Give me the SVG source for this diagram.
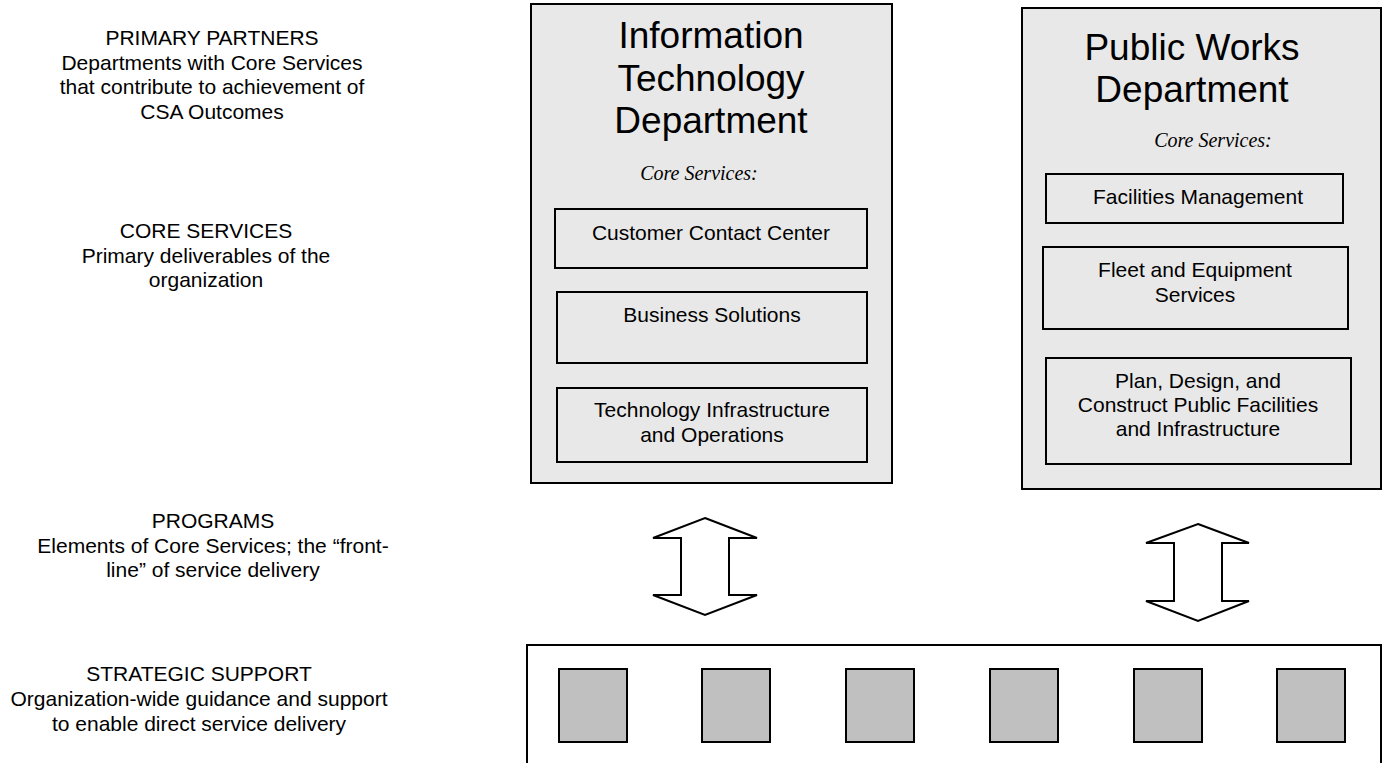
<svg xmlns="http://www.w3.org/2000/svg" width="1387" height="763" viewBox="0 0 1387 763">
<defs>
<style>
.lbl{font-family:"Liberation Sans",Arial,sans-serif;font-size:21px;fill:#000;text-anchor:middle}
.title{font-family:"Liberation Sans",Arial,sans-serif;font-size:37px;fill:#000;text-anchor:middle}
.cs{font-family:"Liberation Serif","Times New Roman",serif;font-style:italic;font-size:20px;fill:#000;text-anchor:middle}
.dept{fill:#e8e8e8;stroke:#000;stroke-width:2}
.svc{fill:#e8e8e8;stroke:#000;stroke-width:2}
.arrow{fill:#fff;stroke:#000;stroke-width:2;stroke-linejoin:miter}
.sq{fill:#c0c0c0;stroke:#000;stroke-width:2}
</style>
</defs>
<rect width="1387" height="763" fill="#fff"/>

<g id="legend">
<text class="lbl" x="212" y="45">PRIMARY PARTNERS</text>
<text class="lbl" x="212" y="69.5">Departments with Core Services</text>
<text class="lbl" x="212" y="94">that contribute to achievement of</text>
<text class="lbl" x="212" y="119">CSA Outcomes</text>
<text class="lbl" x="206" y="238">CORE SERVICES</text>
<text class="lbl" x="206" y="263">Primary deliverables of the</text>
<text class="lbl" x="206" y="287">organization</text>
<text class="lbl" x="213" y="528">PROGRAMS</text>
<text class="lbl" x="213" y="552.5">Elements of Core Services; the “front-</text>
<text class="lbl" x="213" y="577">line” of service delivery</text>
<text class="lbl" x="199" y="680.5">STRATEGIC SUPPORT</text>
<text class="lbl" x="199" y="706">Organization-wide guidance and support</text>
<text class="lbl" x="199" y="731">to enable direct service delivery</text>
</g>

<g id="it-dept">
<rect class="dept" x="531" y="4" width="361" height="479"/>
<text class="title" x="711" y="48">Information</text>
<text class="title" x="711" y="91">Technology</text>
<text class="title" x="711" y="133">Department</text>
<text class="cs" x="699" y="180">Core Services:</text>
</g>
<g id="it-customer-contact">
<rect class="svc" x="555" y="209" width="312" height="59"/>
<text class="lbl" x="711" y="240">Customer Contact Center</text>
</g>
<g id="it-business-solutions">
<rect class="svc" x="557" y="292" width="310" height="71"/>
<text class="lbl" x="712" y="322">Business Solutions</text>
</g>
<g id="it-tech-infra">
<rect class="svc" x="557" y="388" width="310" height="74"/>
<text class="lbl" x="712" y="417">Technology Infrastructure</text>
<text class="lbl" x="712" y="442">and Operations</text>
</g>

<g id="pw-dept">
<rect class="dept" x="1022" y="8" width="359" height="481"/>
<text class="title" x="1192" y="60">Public Works</text>
<text class="title" x="1192" y="102">Department</text>
<text class="cs" x="1213" y="147">Core Services:</text>
</g>
<g id="pw-facilities">
<rect class="svc" x="1046" y="174" width="297" height="49"/>
<text class="lbl" x="1198" y="204">Facilities Management</text>
</g>
<g id="pw-fleet">
<rect class="svc" x="1043" y="247" width="305" height="82"/>
<text class="lbl" x="1195" y="277">Fleet and Equipment</text>
<text class="lbl" x="1195" y="302">Services</text>
</g>
<g id="pw-plan">
<rect class="svc" x="1046" y="358" width="305" height="106"/>
<text class="lbl" x="1198" y="388">Plan, Design, and</text>
<text class="lbl" x="1198" y="412">Construct Public Facilities</text>
<text class="lbl" x="1198" y="436">and Infrastructure</text>
</g>

<g id="connectors">
<polygon class="arrow" points="705,518 757,538 729,538 729,595 757,595 705,615 653,595 681,595 681,538 653,538"/>
<polygon class="arrow" points="1198,524 1249,543 1222,543 1222,601 1249,601 1198,621 1146,601 1174,601 1174,543 1146,543"/>
</g>

<g id="strategic-support">
<rect x="527" y="645" width="854" height="130" fill="#fff" stroke="#000" stroke-width="2"/>
<rect class="sq" x="559" y="669" width="68" height="73"/>
<rect class="sq" x="702" y="669" width="68" height="73"/>
<rect class="sq" x="846" y="669" width="68" height="73"/>
<rect class="sq" x="990" y="669" width="68" height="73"/>
<rect class="sq" x="1134" y="669" width="68" height="73"/>
<rect class="sq" x="1277" y="669" width="68" height="73"/>
</g>
</svg>
